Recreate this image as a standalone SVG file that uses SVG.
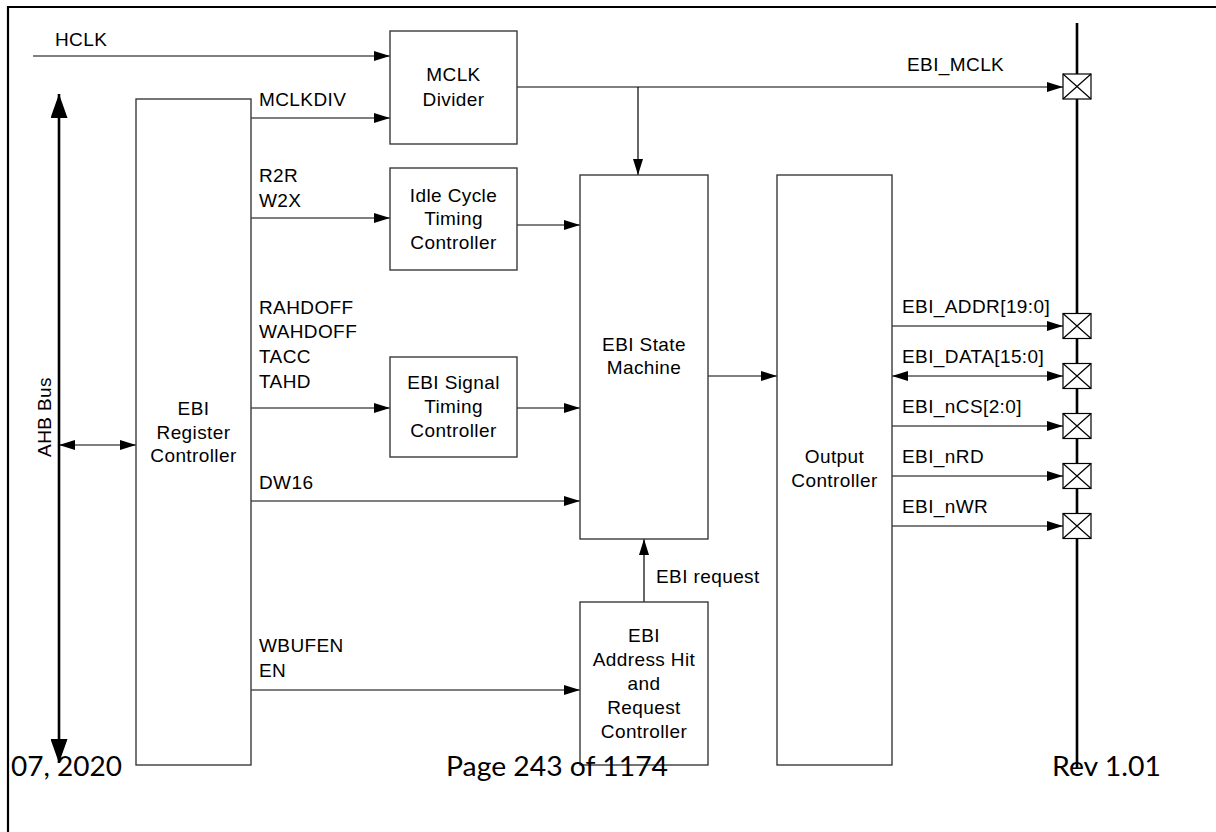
<svg xmlns="http://www.w3.org/2000/svg" width="1216" height="832" viewBox="0 0 1216 832">
<style>
.bx{fill:#fff;stroke:#3a3a3a;stroke-width:1.4}
.ln{fill:none;stroke:#000;stroke-width:1.2}
.bus{fill:none;stroke:#000;stroke-width:2.6}
.t{font-family:"Liberation Sans",Arial,sans-serif;font-size:19px;fill:#000;letter-spacing:0.4px}
.c{text-anchor:middle}
.f{font-family:Lato,"Open Sans",sans-serif;font-size:27px;fill:#000}
.pin{fill:#fff;stroke:#000;stroke-width:1.2}
</style>
<defs>
<marker id="arr" markerUnits="userSpaceOnUse" markerWidth="16" markerHeight="10" refX="16" refY="5" orient="auto-start-reverse"><path d="M0,0 L16,5 L0,10 z" fill="#000"/></marker>
<marker id="big" markerUnits="userSpaceOnUse" markerWidth="24" markerHeight="17" refX="24" refY="8.5" orient="auto-start-reverse"><path d="M0,0 L24,8.5 L0,17 z" fill="#000"/></marker>
</defs>
<rect width="1216" height="832" fill="#fff"/>
<g id="frame"><path d="M8,832 V7 H1216" fill="none" stroke="#000" stroke-width="2.2"/></g>

<g id="connectors">
<path class="ln" d="M33,56 H390" marker-end="url(#arr)"/>
<path class="ln" d="M251,118 H390" marker-end="url(#arr)"/>
<path class="ln" d="M251,218 H390" marker-end="url(#arr)"/>
<path class="ln" d="M251,408 H390" marker-end="url(#arr)"/>
<path class="ln" d="M251,501 H580" marker-end="url(#arr)"/>
<path class="ln" d="M251,690 H580" marker-end="url(#arr)"/>
<path class="ln" d="M517,225 H580" marker-end="url(#arr)"/>
<path class="ln" d="M517,408 H580" marker-end="url(#arr)"/>
<path class="ln" d="M708,376 H777" marker-end="url(#arr)"/>
<path class="ln" d="M517,87 H1063" marker-end="url(#arr)"/>
<path class="ln" d="M638,87 V175" marker-end="url(#arr)"/>
<path class="ln" d="M644,602 V539" marker-end="url(#arr)"/>
<path class="ln" d="M59,445 H136" marker-start="url(#arr)" marker-end="url(#arr)"/>
<path class="bus" d="M59,94 V763" marker-start="url(#big)" marker-end="url(#big)"/>
<path class="ln" d="M892,326 H1063" marker-end="url(#arr)"/>
<path class="ln" d="M892,376 H1063" marker-start="url(#arr)" marker-end="url(#arr)"/>
<path class="ln" d="M892,426 H1063" marker-end="url(#arr)"/>
<path class="ln" d="M892,476 H1063" marker-end="url(#arr)"/>
<path class="ln" d="M892,526 H1063" marker-end="url(#arr)"/>
<path class="bus" d="M1077,23 V768"/>
</g>

<g id="labels">
<text class="t" x="55" y="46">HCLK</text>
<text class="t" x="259" y="106">MCLKDIV</text>
<text class="t" x="259" y="182">R2R</text>
<text class="t" x="259" y="207">W2X</text>
<text class="t" x="259" y="314">RAHDOFF</text>
<text class="t" x="259" y="338">WAHDOFF</text>
<text class="t" x="259" y="363">TACC</text>
<text class="t" x="259" y="388">TAHD</text>
<text class="t" x="259" y="489">DW16</text>
<text class="t" x="259" y="652">WBUFEN</text>
<text class="t" x="259" y="677">EN</text>
<text class="t" x="656" y="583">EBI request</text>
<text class="t" x="907" y="71">EBI_MCLK</text>
<text class="t" x="902" y="313">EBI_ADDR[19:0]</text>
<text class="t" x="902" y="363">EBI_DATA[15:0]</text>
<text class="t" x="902" y="413">EBI_nCS[2:0]</text>
<text class="t" x="902" y="463">EBI_nRD</text>
<text class="t" x="902" y="513">EBI_nWR</text>
<text class="t c" transform="translate(51,417) rotate(-90)">AHB Bus</text>
</g>

<g id="reg">
<rect class="bx" x="136" y="99" width="115" height="666"/>
<text class="t c" x="193.5" y="415">EBI</text>
<text class="t c" x="193.5" y="439">Register</text>
<text class="t c" x="193.5" y="462">Controller</text>
</g>
<g id="mclkdiv">
<rect class="bx" x="390" y="31" width="127" height="113"/>
<text class="t c" x="453.5" y="81">MCLK</text>
<text class="t c" x="453.5" y="106">Divider</text>
</g>
<g id="idle">
<rect class="bx" x="390" y="168" width="127" height="102"/>
<text class="t c" x="453.5" y="202">Idle Cycle</text>
<text class="t c" x="453.5" y="225">Timing</text>
<text class="t c" x="453.5" y="249">Controller</text>
</g>
<g id="sig">
<rect class="bx" x="390" y="357" width="127" height="100"/>
<text class="t c" x="453.5" y="389">EBI Signal</text>
<text class="t c" x="453.5" y="413">Timing</text>
<text class="t c" x="453.5" y="437">Controller</text>
</g>
<g id="sm">
<rect class="bx" x="580" y="175" width="128" height="364"/>
<text class="t c" x="644" y="351">EBI State</text>
<text class="t c" x="644" y="374">Machine</text>
</g>
<g id="addr">
<rect class="bx" x="580" y="602" width="128" height="163"/>
<text class="t c" x="644" y="642">EBI</text>
<text class="t c" x="644" y="666">Address Hit</text>
<text class="t c" x="644" y="690">and</text>
<text class="t c" x="644" y="714">Request</text>
<text class="t c" x="644" y="738">Controller</text>
</g>
<g id="out">
<rect class="bx" x="777" y="175" width="115" height="590"/>
<text class="t c" x="834.5" y="463">Output</text>
<text class="t c" x="834.5" y="487">Controller</text>
</g>

<g id="pins">
<g id="pin-mclk"><rect class="pin" x="1063" y="74" width="28" height="25"/><path class="pin" d="M1063,74 L1091,99 M1091,74 L1063,99"/></g>
<g id="pin-addr"><rect class="pin" x="1063" y="313.5" width="28" height="25"/><path class="pin" d="M1063,313.5 L1091,338.5 M1091,313.5 L1063,338.5"/></g>
<g id="pin-data"><rect class="pin" x="1063" y="363.5" width="28" height="25"/><path class="pin" d="M1063,363.5 L1091,388.5 M1091,363.5 L1063,388.5"/></g>
<g id="pin-ncs"><rect class="pin" x="1063" y="413.5" width="28" height="25"/><path class="pin" d="M1063,413.5 L1091,438.5 M1091,413.5 L1063,438.5"/></g>
<g id="pin-nrd"><rect class="pin" x="1063" y="463.5" width="28" height="25"/><path class="pin" d="M1063,463.5 L1091,488.5 M1091,463.5 L1063,488.5"/></g>
<g id="pin-nwr"><rect class="pin" x="1063" y="513.5" width="28" height="25"/><path class="pin" d="M1063,513.5 L1091,538.5 M1091,513.5 L1063,538.5"/></g>
</g>

<g id="footer">
<text class="f" x="11" y="776" textLength="111" lengthAdjust="spacingAndGlyphs">07, 2020</text>
<text class="f" x="446" y="776" textLength="222" lengthAdjust="spacingAndGlyphs">Page 243 of 1174</text>
<text class="f" x="1052" y="776" textLength="109" lengthAdjust="spacingAndGlyphs">Rev 1.01</text>
</g>
</svg>
